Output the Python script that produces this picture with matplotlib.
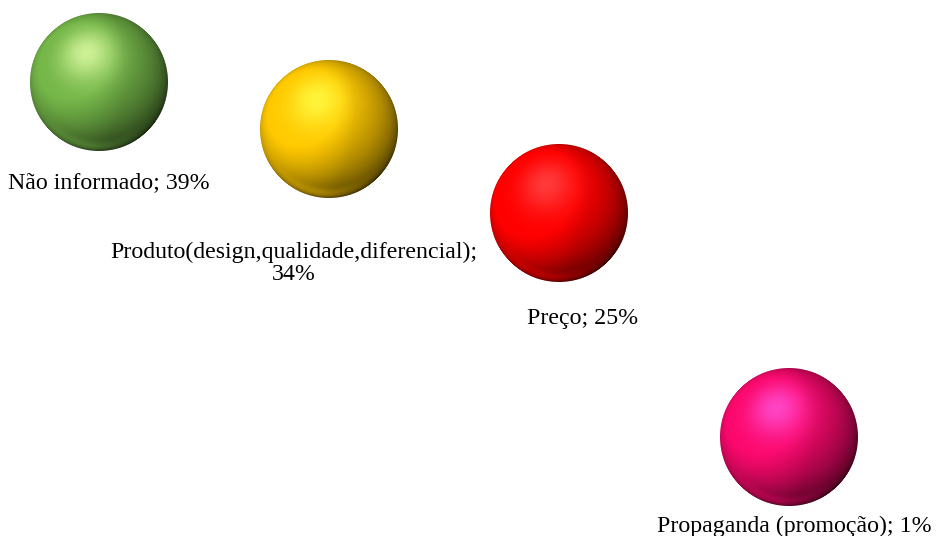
import numpy as np
import matplotlib
matplotlib.use("Agg")
import matplotlib.pyplot as plt
from matplotlib.offsetbox import OffsetImage, AnnotationBbox

# Data
categories = ["Não informado", "Produto(design,qualidade,diferencial)", "Preço",
              "Propaganda (promoção)"]
values = [39, 34, 25, 1]
colors = ["#6fae45", "#f5c000", "#ff0000", "#f00868"]
label_texts = ["Não informado; 39%", "Produto(design,qualidade,diferencial);\n34%",
               "Preço; 25%", "Propaganda (promoção); 1%"]

# label offsets from the marker centre, in pixels (to the last line's baseline)
label_offsets = [(10, -106), (-35, -151), (24, -111), (5, -95)]

plt.rcParams["font.family"] = ["Liberation Serif", "DejaVu Serif"]


def _unit(v):
    v = np.asarray(v, dtype=float)
    return v / np.linalg.norm(v)


def sphere_image(hex_color, size=280):
    base = np.array(matplotlib.colors.to_rgb(hex_color))
    light = np.clip(base * 1.4 + 0.28, 0, 1)
    r = size / 2.0
    yy, xx = np.mgrid[0:size, 0:size] + 0.5
    x = (xx - r) / r
    y = -(yy - r) / r
    rr = x ** 2 + y ** 2
    dist = np.sqrt(rr)
    z = np.sqrt(np.clip(1 - rr, 0, 1))
    key = _unit([-0.18, 0.42, 0.89])
    fill = _unit([-1.0, 0.1, 0.4])
    ndl = x * key[0] + y * key[1] + z * key[2]
    ndf = x * fill[0] + y * fill[1] + z * fill[2]
    d = np.clip((ndl + 0.55) / 1.55, 0, 1)
    shade = 0.08 + 0.95 * d + 0.25 * np.clip(ndf, 0, 1)
    shade = np.clip(shade, 0, 1.05)
    rgb = base[None, None, :] * shade[..., None]
    # soft highlight tinted with the ball colour
    spec = np.clip(ndl, 0, 1) ** 12
    rgb = rgb + (light - rgb) * (0.8 * spec)[..., None]
    # light reflected along the lower rim
    rim = np.exp(-((dist - 0.93) / 0.07) ** 2) * np.clip(-y - 0.15, 0, 1) * np.clip(0.9 - x, 0, 1)
    rgb = rgb + (base - rgb) * (0.55 * rim)[..., None]
    rgb = np.clip(rgb, 0, 1)
    alpha = np.clip((1 - dist) * r + 0.5, 0, 1)
    return np.dstack([rgb, alpha])


fig = plt.figure(figsize=(9.36, 5.36), dpi=100)
ax = fig.add_axes([0, 0, 1, 1])
ax.set_xlim(0.5696, 4.639)
ax.set_ylim(-9.612, 47.84)
ax.axis("off")

xs = np.arange(1, len(values) + 1)
ax.plot(xs, values, linestyle="none")

for xi, v, c, txt, off in zip(xs, values, colors, label_texts, label_offsets):
    img = OffsetImage(sphere_image(c), zoom=138 / 280, dpi_cor=False)
    ab = AnnotationBbox(img, (xi, v), frameon=False, pad=0)
    ax.add_artist(ab)
    ax.annotate(txt, (xi, v), xytext=off, textcoords="offset pixels",
                ha="center", va="baseline", fontsize=17.2, linespacing=1.1,
                multialignment="center", color="black")

fig.savefig("out.png", dpi=100)
